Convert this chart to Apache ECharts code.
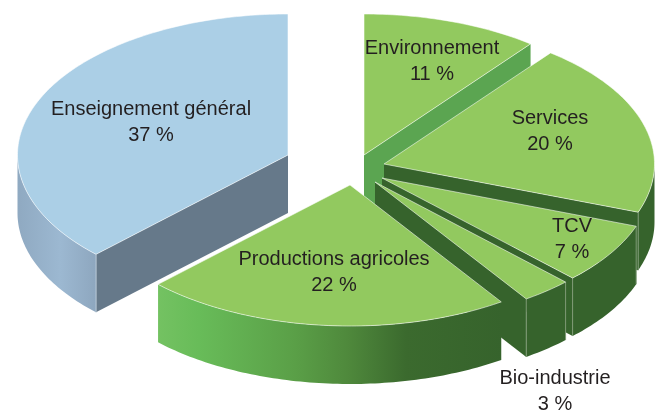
<!DOCTYPE html>
<html>
<head>
<meta charset="utf-8">
<title>Répartition</title>
<script src="https://cdn.jsdelivr.net/npm/echarts@6/dist/echarts.min.js"></script>
<style>
  html, body { margin: 0; padding: 0; background: #fff; }
  #chart { width: 664px; height: 410px; }
</style>
</head>
<body>
<div id="chart"></div>
<script>
// Parts en %, dans le sens horaire depuis le haut
const categories = ['Environnement', 'Services', 'TCV', 'Bio-industrie', 'Productions agricoles', 'Enseignement général'];
const shares = [11, 20, 7, 3, 22, 37];

// Mise en page du camembert éclaté
const RX = 270.5;
const RY = 141;
const DEPTH = 58;
const BOUNDARY_SHIFT = 1.6; // les coupes de l'original tombent un peu avant la valeur exacte
const centers = [[364, 155], [384, 164], [382, 178], [375, 182], [350, 185], [288, 155]];
const labelPos = [[432, 61], [550, 131], [572, 239], [555, 391], [334, 272], [151, 122]];

const GREEN = '#92c95f';
const DARK = '#36632c';
const topColors = [GREEN, GREEN, GREEN, GREEN, GREEN, '#abcfe6'];
const cutColors = ['#5ba551', DARK, DARK, DARK, DARK, '#66798a'];

const hGrad = (x, x2, stops) => ({
  type: 'linear', x: x, y: 0, x2: x2, y2: 0, global: true,
  colorStops: stops.map(s => ({ offset: s[0], color: s[1] }))
});
const wallColors = [
  '#5ba551', DARK, DARK, DARK,
  hGrad(157, 503, [[0, '#74c262'], [0.12, '#68bc59'], [0.4, '#5a9f47'], [0.55, '#4f893c'], [0.72, '#3b6a2e'], [1, DARK]]),
  hGrad(17, 288, [[0, '#8fa9c1'], [0.16, '#9cb8d1'], [0.29, '#8ea7bf'], [1, '#8ea7bf']])
];

const toRad = d => d * Math.PI / 180;
const pt = (c, deg, dy) => [c[0] + RX * Math.sin(toRad(deg)), c[1] - RY * Math.cos(toRad(deg)) + (dy || 0)];

function arc(c, from, to, dy) {
  const pts = [];
  const n = Math.max(2, Math.ceil(Math.abs(to - from)));
  for (let i = 0; i <= n; i++) pts.push(pt(c, from + (to - from) * i / n, dy));
  return pts;
}

function renderSlice(params, api) {
  const i = params.dataIndex;
  const c = centers[i];
  let sum = 0;
  for (let k = 0; k < i; k++) sum += shares[k];
  const start = i === 0 ? 0 : sum / 100 * 360 - BOUNDARY_SHIFT;
  const stop = (sum + api.value(0)) / 100 * 360;
  const end = i === shares.length - 1 ? 360 : stop - BOUNDARY_SHIFT;
  const children = [];

  // face de coupe visible
  const cutAngle = end <= 180 ? end : (start >= 180 ? start : null);
  if (cutAngle !== null) {
    const p = pt(c, cutAngle);
    children.push({
      type: 'polygon',
      shape: { points: [c, p, [p[0], p[1] + DEPTH], [c[0], c[1] + DEPTH]] },
      style: { fill: cutColors[i] }
    });
  }

  // paroi extérieure, partie avant seulement
  const wFrom = Math.max(start, 90);
  const wTo = Math.min(end, 270);
  if (wTo > wFrom) {
    children.push({
      type: 'polygon',
      shape: { points: arc(c, wFrom, wTo, 0).concat(arc(c, wTo, wFrom, DEPTH)) },
      style: { fill: wallColors[i] }
    });
    [wFrom, wTo].forEach(a => {
      if (a === 90 || a === 270 || i === 4) return;
      const p = pt(c, a);
      children.push({
        type: 'line',
        shape: { x1: p[0], y1: p[1], x2: p[0], y2: p[1] + DEPTH },
        style: { stroke: i === 5 ? '#b9cad8' : '#7f9a76', lineWidth: 1 }
      });
    });
  }

  // dessus
  children.push({
    type: 'polygon',
    shape: { points: [c].concat(arc(c, start, end, 0)) },
    style: { fill: topColors[i], stroke: 'rgba(255,255,255,0.55)', lineWidth: 1 }
  });

  return { type: 'group', children: children };
}

function renderLabel(params) {
  const i = params.dataIndex;
  return {
    type: 'text',
    style: {
      text: categories[i] + '\n' + shares[i] + ' %',
      x: labelPos[i][0], y: labelPos[i][1],
      align: 'center', verticalAlign: 'middle',
      font: '20px "Liberation Sans", Arial, sans-serif',
      lineHeight: 26, fill: '#231f20'
    }
  };
}

const chart = echarts.init(document.getElementById('chart'), null, { renderer: 'canvas' });
chart.setOption({
  animation: false,
  backgroundColor: '#ffffff',
  series: [
    {
      type: 'custom', coordinateSystem: 'none', renderItem: renderSlice, silent: true,
      data: categories.map((name, i) => ({ name: name, value: shares[i] }))
    },
    {
      type: 'custom', coordinateSystem: 'none', renderItem: renderLabel, silent: true, z: 5,
      data: categories.map((name, i) => ({ name: name, value: shares[i] }))
    }
  ]
});
</script>
</body>
</html>
